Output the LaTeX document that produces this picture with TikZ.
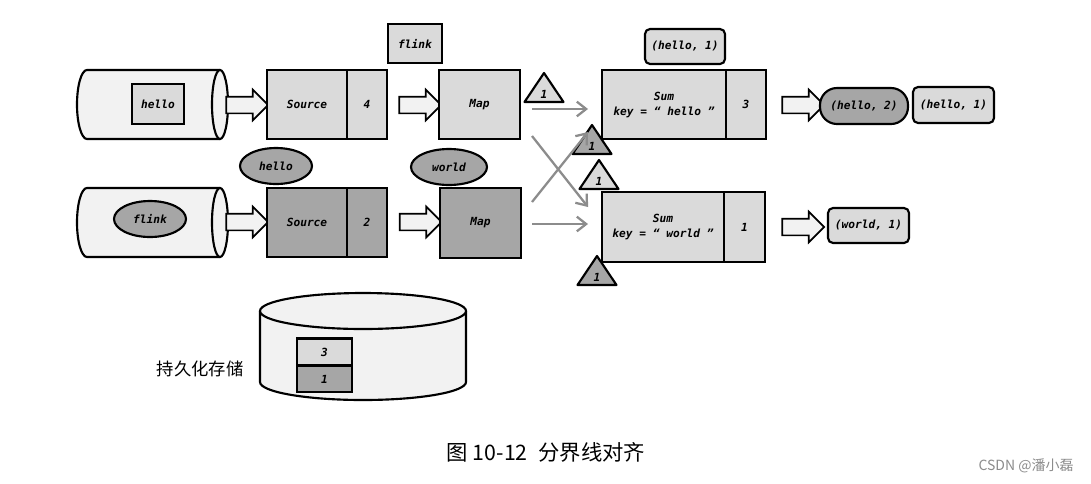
\documentclass[tikz,border=0pt]{standalone}
\usepackage{fontspec}
\usetikzlibrary{shapes.geometric,shapes.arrows,arrows.meta}
\newfontfamily\cjk{Noto Sans CJK SC}
\newfontfamily\dmono{DejaVu Sans Mono}
\newdimen\pxu \pxu=0.75pt
\newcommand\labfont{\dmono\bfseries\itshape\fontsize{8.4}{11.25}\selectfont}
\definecolor{lightf}{RGB}{218,218,218}
\definecolor{cylf}{RGB}{242,242,242}
\definecolor{darkf}{RGB}{166,166,166}
\definecolor{garr}{RGB}{140,140,140}
\newcommand\mytri[4]{%
  \draw[line width=1.6pt, line join=round, fill=#4] (#2-19.5,#3+29) -- (#2,#3) -- (#2+19.5,#3+29) -- cycle;
  \node[lab] (#1) at (#2,#3+21) {1};}
\begin{document}
\begin{tikzpicture}[x=0.75pt,y=-0.75pt,
  lab/.style={font=\labfont, inner sep=0},
  box/.style={draw, line width=1.6pt, inner sep=0, font=\labfont, align=center},
  lbox/.style={box, fill=lightf},
  dbox/.style={box, fill=darkf},
  rbox/.style={box, fill=lightf, rounded corners=5\pxu},
  oval/.style={draw, line width=1.6pt, ellipse, fill=darkf, inner sep=0, font=\labfont, minimum width=72\pxu, minimum height=36\pxu},
  fat/.style={shape=single arrow, draw, fill=cylf, line width=1.3pt, inner sep=0, minimum height=42\pxu, minimum width=29\pxu, single arrow head extend=7\pxu},
  garrow/.style={draw=garr, line width=1.7pt, -{Straight Barb[length=7pt,width=11pt]}},
  cyl/.style={draw, line width=1.6pt, fill=cylf}
]
\fill[white] (0,0) rectangle (1091,483);
\useasboundingbox (0,0) rectangle (1091,483);

% input cylinders
\draw[cyl] (220,70) -- (87,70) arc[start angle=270, end angle=90, x radius=10, y radius=34.5] -- (220,139);
\draw[cyl] (220,104.5) ellipse[x radius=8, y radius=34.5];
\draw[cyl] (220,188) -- (87,188) arc[start angle=270, end angle=90, x radius=10, y radius=34.5] -- (220,257);
\draw[cyl] (220,222.5) ellipse[x radius=8, y radius=34.5];

\node[lbox, minimum width=52\pxu, minimum height=40\pxu] (in1) at (158,104) {hello};
\node[oval] (in2) at (150,219) {flink};

% fat arrows
\node[fat] (fa1) at (243,105) {\rule{0pt}{15\pxu}};
\node[fat] (fa2) at (416,105) {\rule{0pt}{15\pxu}};
\node[fat] (fa3) at (243,222) {\rule{0pt}{15\pxu}};
\node[fat] (fa4) at (416.5,222) {\rule{0pt}{15\pxu}};
\node[fat] (fa5) at (799,105) {\rule{0pt}{15\pxu}};
\node[fat] (fa6) at (799,227) {\rule{0pt}{15\pxu}};

% sources
\node[lbox, minimum width=80\pxu, minimum height=69\pxu] (src1) at (307,104.5) {Source};
\node[lbox, minimum width=40\pxu, minimum height=69\pxu] (c1) at (367,104.5) {4};
\node[dbox, minimum width=80\pxu, minimum height=69\pxu] (src2) at (307,222.5) {Source};
\node[dbox, minimum width=40\pxu, minimum height=69\pxu] (c2) at (367,222.5) {2};
\node[oval] (e1) at (276,166) {hello};

% maps
\node[lbox, minimum width=54\pxu, minimum height=39\pxu] (fl) at (415,43.5) {flink};
\node[lbox, minimum width=81\pxu, minimum height=69\pxu] (map1) at (479.5,104.5) {Map};
\node[dbox, minimum width=81\pxu, minimum height=70\pxu] (map2) at (480.5,223) {Map};
\node[oval, minimum width=76\pxu] (e2) at (449,167) {world};

% triangles
\mytri{t1}{544}{73}{lightf}
\mytri{t2}{592}{125}{darkf}
\mytri{t3}{599}{160}{lightf}
\mytri{t4}{597}{256}{darkf}

% gray connectors
\coordinate (m1a) at (532,109);  \coordinate (s1a) at (588,109);
\coordinate (m1b) at (532,136);  \coordinate (s2b) at (588,207);
\coordinate (m2a) at (532,202);  \coordinate (s1b) at (588,132);
\coordinate (m2b) at (532,224);  \coordinate (s2a) at (588,224);
\draw[garrow] (m1a) -- (s1a);
\draw[garrow] (m1b) -- (s2b);
\draw[garrow] (m2a) -- (s1b);
\draw[garrow] (m2b) -- (s2a);

% sums
\node[rbox, minimum width=80\pxu, minimum height=35\pxu] (h1top) at (685,46.5) {(hello, 1)};
\node[lbox, minimum width=124\pxu, minimum height=69\pxu] (sum1) at (664,104.5) {Sum\\key = “ hello ”};
\node[lbox, minimum width=40\pxu, minimum height=69\pxu] (n1) at (746,104.5) {3};
\node[lbox, minimum width=122\pxu, minimum height=70\pxu] (sum2) at (663,227) {Sum\\key = “ world ”};
\node[lbox, minimum width=41\pxu, minimum height=70\pxu] (n2) at (744.5,227) {1};

\node[box, fill=darkf, rounded corners=17\pxu, minimum width=88\pxu, minimum height=36\pxu] (h2) at (864,106) {(hello, 2)};
\node[rbox, minimum width=81\pxu, minimum height=36\pxu] (h1r) at (953.5,105) {(hello, 1)};
\node[rbox, minimum width=81\pxu, minimum height=35\pxu] (w1) at (868.5,225.5) {(world, 1)};

% storage
\draw[cyl] (260,311) -- (260,382) arc[start angle=180, end angle=0, x radius=103, y radius=18] -- (466,311);
\draw[cyl] (363,311) ellipse[x radius=103, y radius=18];
\node[lbox, minimum width=55\pxu, minimum height=27\pxu] (st3) at (324.5,352) {3};
\node[dbox, minimum width=55\pxu, minimum height=26\pxu] (st1) at (324.5,379) {1};
\node[font=\cjk\fontsize{13}{15}\selectfont, inner sep=0] (stlab) at (200,369) {持久化存储};

% caption
\node[font=\cjk\fontsize{16}{19}\selectfont, inner sep=0] (cap) at (546,452) {图 10-12\enspace 分界线对齐};
\node[font=\cjk\fontsize{10.5}{12}\selectfont, text=black!45, inner sep=0] (wm) at (1026,466) {CSDN @潘小磊};
\end{tikzpicture}
\end{document}
